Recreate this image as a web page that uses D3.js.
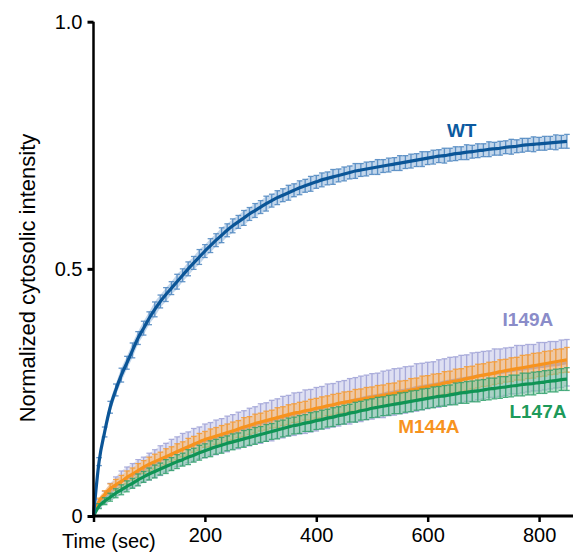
<!DOCTYPE html>
<html>
<head>
<meta charset="utf-8">
<script src="https://cdn.jsdelivr.net/npm/d3@7"></script>
<style>
  body { margin: 0; background: #fff; }
  svg { display: block; font-family: "Liberation Sans", Arial, sans-serif; }
</style>
</head>
<body>
<script>
// sample times (sec), one sample every 10 s
var times = d3.range(0, 851, 10);

// mean values
var wt = [0, 0.11, 0.17, 0.22, 0.255, 0.285, 0.31, 0.335, 0.36, 0.38,
  0.40, 0.418, 0.434, 0.448, 0.461, 0.474, 0.487, 0.50, 0.512, 0.524,
  0.536, 0.547, 0.558, 0.568, 0.578, 0.587, 0.595, 0.603, 0.611, 0.618,
  0.625, 0.632, 0.638, 0.644, 0.649, 0.654, 0.659, 0.664, 0.668, 0.672,
  0.676, 0.68, 0.683, 0.686, 0.689, 0.692, 0.695, 0.698, 0.70, 0.702,
  0.704, 0.706, 0.708, 0.71, 0.712, 0.714, 0.716, 0.718, 0.72, 0.722,
  0.724, 0.726, 0.728, 0.729, 0.731, 0.733, 0.734, 0.736, 0.737, 0.739,
  0.74, 0.742, 0.743, 0.744, 0.746, 0.747, 0.748, 0.75, 0.751, 0.752,
  0.753, 0.754, 0.755, 0.756, 0.757, 0.758];
var wtErr = [0, 0.008, 0.01, 0.012, 0.012, 0.014, 0.013, 0.015, 0.013, 0.014,
  0.013, 0.015, 0.013, 0.014, 0.013, 0.015, 0.013, 0.014, 0.013, 0.015,
  0.013, 0.014, 0.013, 0.015, 0.013, 0.014, 0.013, 0.015, 0.013, 0.014,
  0.013, 0.015, 0.013, 0.014, 0.013, 0.015, 0.013, 0.014, 0.013, 0.015,
  0.013, 0.014, 0.013, 0.015, 0.013, 0.014, 0.013, 0.015, 0.013, 0.014,
  0.013, 0.015, 0.013, 0.014, 0.013, 0.015, 0.013, 0.014, 0.013, 0.015,
  0.013, 0.014, 0.013, 0.015, 0.013, 0.014, 0.013, 0.015, 0.013, 0.014,
  0.013, 0.015, 0.013, 0.014, 0.013, 0.015, 0.013, 0.014, 0.013, 0.015,
  0.013, 0.014, 0.013, 0.015, 0.013, 0.014];

var i149a = [0, 0.025, 0.038, 0.05, 0.06, 0.07, 0.076, 0.082, 0.088, 0.094,
  0.1, 0.106, 0.112, 0.118, 0.124, 0.13, 0.135, 0.139, 0.144, 0.148,
  0.152, 0.156, 0.159, 0.163, 0.166, 0.17, 0.173, 0.177, 0.18, 0.184,
  0.187, 0.19, 0.193, 0.197, 0.2, 0.203, 0.206, 0.208, 0.211, 0.213,
  0.216, 0.219, 0.222, 0.224, 0.227, 0.23, 0.232, 0.235, 0.237, 0.24,
  0.242, 0.244, 0.246, 0.249, 0.251, 0.253, 0.255, 0.257, 0.26, 0.262,
  0.264, 0.266, 0.268, 0.271, 0.273, 0.275, 0.277, 0.279, 0.281, 0.283,
  0.285, 0.287, 0.289, 0.29, 0.292, 0.294, 0.296, 0.297, 0.299, 0.3,
  0.302, 0.303, 0.305, 0.306, 0.308, 0.31];
var i149aErr = [0, 0.008, 0.012, 0.016, 0.019, 0.021, 0.023, 0.024, 0.026, 0.025,
  0.027, 0.028, 0.03, 0.029, 0.031, 0.03, 0.032, 0.031, 0.033, 0.032,
  0.034, 0.033, 0.035, 0.034, 0.036, 0.035, 0.037, 0.036, 0.038, 0.037,
  0.04, 0.039, 0.041, 0.04, 0.042, 0.041, 0.043, 0.042, 0.044, 0.043,
  0.044, 0.043, 0.045, 0.044, 0.045, 0.044, 0.046, 0.045, 0.046, 0.045,
  0.046, 0.045, 0.047, 0.046, 0.047, 0.046, 0.047, 0.046, 0.048, 0.047,
  0.047, 0.046, 0.048, 0.047, 0.048, 0.047, 0.048, 0.047, 0.049, 0.048,
  0.048, 0.047, 0.049, 0.048, 0.048, 0.047, 0.049, 0.048, 0.048, 0.047,
  0.049, 0.048, 0.048, 0.047, 0.048, 0.047];

var m144a = [0, 0.03, 0.043, 0.055, 0.063, 0.07, 0.078, 0.085, 0.092, 0.099,
  0.105, 0.11, 0.115, 0.12, 0.125, 0.13, 0.135, 0.14, 0.145, 0.15,
  0.155, 0.158, 0.162, 0.165, 0.169, 0.172, 0.176, 0.18, 0.183, 0.187,
  0.19, 0.193, 0.196, 0.199, 0.202, 0.205, 0.208, 0.21, 0.213, 0.215,
  0.218, 0.22, 0.223, 0.225, 0.228, 0.23, 0.232, 0.234, 0.236, 0.238,
  0.24, 0.242, 0.244, 0.246, 0.248, 0.25, 0.252, 0.255, 0.257, 0.26,
  0.262, 0.264, 0.266, 0.269, 0.271, 0.273, 0.275, 0.278, 0.28, 0.283,
  0.285, 0.287, 0.289, 0.292, 0.294, 0.296, 0.298, 0.3, 0.302, 0.304,
  0.306, 0.308, 0.31, 0.312, 0.314, 0.316];
var m144aErr = [0, 0.006, 0.008, 0.01, 0.011, 0.012, 0.013, 0.012, 0.014, 0.013,
  0.014, 0.015, 0.014, 0.016, 0.015, 0.016, 0.015, 0.017, 0.016, 0.017,
  0.016, 0.018, 0.017, 0.018, 0.017, 0.018, 0.017, 0.019, 0.018, 0.019,
  0.018, 0.019, 0.018, 0.02, 0.019, 0.02, 0.019, 0.02, 0.019, 0.021,
  0.02, 0.021, 0.02, 0.021, 0.02, 0.021, 0.02, 0.022, 0.021, 0.022,
  0.021, 0.022, 0.021, 0.022, 0.021, 0.023, 0.022, 0.023, 0.022, 0.023,
  0.022, 0.023, 0.022, 0.023, 0.022, 0.024, 0.023, 0.024, 0.023, 0.024,
  0.023, 0.024, 0.023, 0.024, 0.023, 0.024, 0.023, 0.025, 0.024, 0.025,
  0.024, 0.025, 0.024, 0.025, 0.024, 0.025];

var l147a = [0, 0.02, 0.03, 0.038, 0.046, 0.053, 0.06, 0.066, 0.073, 0.079,
  0.085, 0.09, 0.095, 0.1, 0.105, 0.11, 0.114, 0.119, 0.123, 0.128,
  0.132, 0.136, 0.14, 0.143, 0.147, 0.15, 0.153, 0.156, 0.159, 0.162,
  0.165, 0.168, 0.171, 0.174, 0.177, 0.18, 0.183, 0.185, 0.188, 0.19,
  0.193, 0.195, 0.198, 0.2, 0.203, 0.205, 0.208, 0.21, 0.213, 0.215,
  0.218, 0.22, 0.222, 0.224, 0.226, 0.228, 0.23, 0.232, 0.234, 0.236,
  0.238, 0.24, 0.242, 0.243, 0.245, 0.247, 0.249, 0.25, 0.252, 0.253,
  0.255, 0.257, 0.258, 0.26, 0.261, 0.263, 0.264, 0.266, 0.267, 0.268,
  0.27, 0.271, 0.273, 0.274, 0.276, 0.277];
var l147aErr = [0, 0.005, 0.007, 0.008, 0.009, 0.01, 0.011, 0.01, 0.012, 0.011,
  0.012, 0.013, 0.012, 0.014, 0.013, 0.014, 0.013, 0.015, 0.014, 0.015,
  0.014, 0.016, 0.015, 0.016, 0.015, 0.016, 0.015, 0.017, 0.016, 0.017,
  0.016, 0.017, 0.016, 0.018, 0.017, 0.018, 0.017, 0.018, 0.017, 0.019,
  0.018, 0.019, 0.018, 0.019, 0.018, 0.019, 0.018, 0.02, 0.019, 0.02,
  0.019, 0.02, 0.019, 0.02, 0.019, 0.021, 0.02, 0.021, 0.02, 0.021,
  0.02, 0.021, 0.02, 0.021, 0.02, 0.022, 0.021, 0.022, 0.021, 0.022,
  0.021, 0.022, 0.021, 0.022, 0.021, 0.022, 0.021, 0.023, 0.022, 0.023,
  0.022, 0.023, 0.022, 0.023, 0.022, 0.023];

var xTicks = [0, 200, 400, 600, 800];
var yTicks = [0, 0.5, 1.0];
var yTickLabels = ["0", "0.5", "1.0"];

// series drawn back to front; lx/ly = label anchor in data units
var series = [
  { name: "I149A", mean: i149a, err: i149aErr, line: "#8a8dc8", bar: "#9ea1d6", fill: "#c3c5e8", op: 0.55, text: "#8a8cc9", lx: 780, ly: 0.385 },
  { name: "M144A", mean: m144a, err: m144aErr, line: "#f7931e", bar: "#f79a2e", fill: "#f8b86e", op: 0.6, text: "#f7931e", lx: 602, ly: 0.168 },
  { name: "L147A", mean: l147a, err: l147aErr, line: "#0f9455", bar: "#2fa06b", fill: "#7cc4a0", op: 0.55, text: "#1d9a5a", lx: 798, ly: 0.198 },
  { name: "WT", mean: wt, err: wtErr, line: "#0b5597", bar: "#4a84bf", fill: "#8fb4da", op: 0.55, text: "#0b5aa0", lx: 661, ly: 0.767 }
];

var width = 573, height = 555;
var svg = d3.select("body").append("svg").attr("width", width).attr("height", height);

var x = d3.scaleLinear().domain([0, 860]).range([93.5, 572.5]);
var y = d3.scaleLinear().domain([0, 1]).range([516, 21.7]);

var plot = svg.append("g");

series.forEach(function(s) {
  var pts = times.map(function(t, i) { return { t: t, v: s.mean[i], e: s.err[i] }; });
  var g = plot.append("g");

  // spread of the error bars as a soft band
  g.append("path").datum(pts)
    .attr("fill", s.fill).attr("opacity", s.op)
    .attr("d", d3.area().curve(d3.curveMonotoneX)
      .x(function(d) { return x(d.t); })
      .y0(function(d) { return y(d.v - d.e); })
      .y1(function(d) { return y(d.v + d.e); }));

  var bars = g.append("g").attr("stroke", s.bar).attr("stroke-width", 1.3).attr("opacity", 0.85);
  pts.forEach(function(p) {
    if (p.e <= 0) return;
    var cx = x(p.t);
    bars.append("line").attr("x1", cx).attr("x2", cx).attr("y1", y(p.v - p.e)).attr("y2", y(p.v + p.e));
    bars.append("line").attr("x1", cx - 2.8).attr("x2", cx + 2.8).attr("y1", y(p.v - p.e)).attr("y2", y(p.v - p.e));
    bars.append("line").attr("x1", cx - 2.8).attr("x2", cx + 2.8).attr("y1", y(p.v + p.e)).attr("y2", y(p.v + p.e));
  });
  g.append("path").datum(pts)
    .attr("fill", "none").attr("stroke", s.line).attr("stroke-width", 3.2)
    .attr("d", d3.line().curve(d3.curveMonotoneX).x(function(d) { return x(d.t); }).y(function(d) { return y(d.v); }));
});

// series labels
series.forEach(function(s) {
  svg.append("text").attr("x", x(s.lx)).attr("y", y(s.ly))
    .attr("text-anchor", "middle").attr("font-weight", "bold").attr("font-size", 19)
    .attr("fill", s.text).text(s.name);
});

// axes
var xAxis = d3.axisBottom(x).tickValues(xTicks).tickSize(6).tickPadding(6)
  .tickFormat(function(d) { return d === 0 ? "" : d; });
var gx = svg.append("g").attr("transform", "translate(0," + y(0) + ")").call(xAxis);
gx.select(".domain").attr("d", "M" + x(0) + ",0H" + width).attr("stroke-width", 3);
gx.selectAll(".tick line").attr("stroke-width", 2.5);
gx.selectAll("text").attr("font-size", 20).attr("fill", "#000").attr("font-family", "Liberation Sans, Arial, sans-serif");

var yAxis = d3.axisLeft(y).tickValues(yTicks).tickSize(6).tickPadding(5)
  .tickFormat(function(d, i) { return yTickLabels[i]; });
var gy = svg.append("g").attr("transform", "translate(" + x(0) + ",0)").call(yAxis);
gy.select(".domain").attr("d", "M0," + y(1) + "V" + (y(0) + 1.5)).attr("stroke-width", 2.5);
gy.selectAll(".tick line").attr("stroke-width", 3);
gy.selectAll("text").attr("font-size", 20).attr("fill", "#000").attr("font-family", "Liberation Sans, Arial, sans-serif");

svg.append("text").attr("x", 62).attr("y", 548).attr("font-size", 20).text("Time (sec)");

svg.append("text")
  .attr("transform", "translate(35," + 278 + ") rotate(-90)")
  .attr("text-anchor", "middle").attr("font-size", 22)
  .text("Normalized cytosolic intensity");
</script>
</body>
</html>
